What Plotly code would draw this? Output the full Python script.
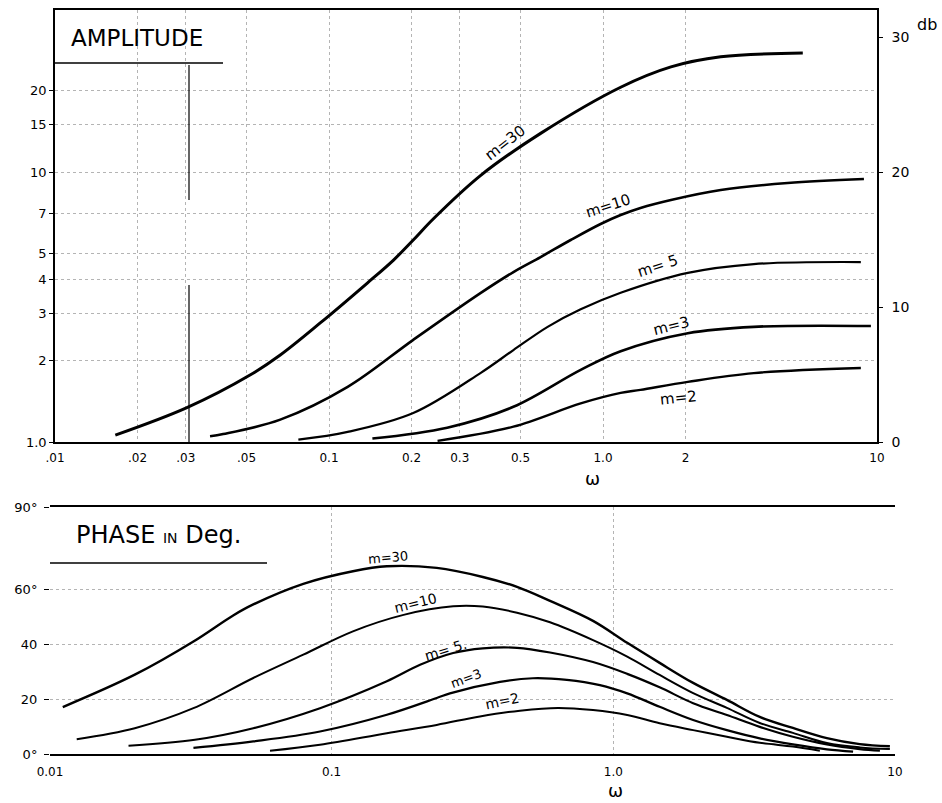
import plotly.graph_objects as go

W, H = 942, 803

# ---------------- data ----------------
# Amplitude (ratio) versus omega
amp_w_m30 = [0.0166, 0.0303, 0.0515, 0.0664, 0.0929, 0.138, 0.172, 0.203, 0.240, 0.357, 0.592, 1.16, 1.77, 2.69, 5.36]
amp_m30 = [1.06, 1.34, 1.77, 2.10, 2.76, 3.88, 4.72, 5.60, 6.70, 9.70, 13.9, 20.6, 24.5, 26.7, 27.6]

amp_w_m10 = [0.0368, 0.0411, 0.0664, 0.117, 0.203, 0.357, 0.471, 0.592, 0.762, 0.980, 1.16, 1.37, 1.77, 2.69, 4.72, 8.96]
amp_m10 = [1.05, 1.07, 1.21, 1.60, 2.39, 3.56, 4.26, 4.84, 5.60, 6.42, 6.93, 7.36, 7.88, 8.58, 9.10, 9.42]

amp_w_m5 = [0.0773, 0.117, 0.203, 0.357, 0.471, 0.628, 0.829, 1.16, 2.04, 3.55, 8.73]
amp_m5 = [1.02, 1.09, 1.28, 1.80, 2.19, 2.67, 3.10, 3.57, 4.23, 4.56, 4.64]

amp_w_m3 = [0.144, 0.270, 0.471, 0.829, 1.16, 2.04, 3.55, 9.50]
amp_m3 = [1.03, 1.13, 1.35, 1.85, 2.17, 2.53, 2.67, 2.69]

amp_w_m2 = [0.249, 0.471, 0.829, 1.16, 1.37, 2.04, 3.55, 8.73]
amp_m2 = [1.01, 1.14, 1.39, 1.52, 1.56, 1.67, 1.80, 1.88]

# Phase (degrees) versus omega
ph_w_m30 = [0.0111, 0.0200, 0.0323, 0.0447, 0.0527, 0.0793, 0.119, 0.157, 0.236, 0.344, 0.455, 0.596, 0.847, 1.12, 1.46, 1.92, 2.53, 3.31, 4.34, 5.73, 7.50, 9.59]
ph_m30 = [17.1, 28.9, 41.0, 50.5, 54.5, 62.0, 66.6, 68.4, 67.8, 64.5, 60.9, 55.8, 48.5, 40.5, 33.2, 25.9, 19.7, 13.5, 9.5, 5.8, 3.6, 2.8]

ph_w_m10 = [0.01244, 0.0200, 0.0323, 0.0527, 0.0793, 0.119, 0.180, 0.270, 0.344, 0.455, 0.596, 0.847, 1.12, 1.46, 1.92, 2.53, 3.31, 4.34, 5.73, 7.50, 9.59]
ph_m10 = [5.4, 9.4, 16.7, 27.7, 36.2, 44.7, 50.7, 53.8, 53.7, 51.5, 48.0, 41.5, 35.5, 28.8, 22.2, 16.8, 11.3, 7.7, 4.0, 2.4, 1.8]

ph_w_m5 = [0.0190, 0.0327, 0.0527, 0.0909, 0.157, 0.206, 0.270, 0.344, 0.455, 0.596, 0.847, 1.12, 1.46, 1.92, 2.53, 3.31, 4.34, 5.73, 7.50, 8.84]
ph_m5 = [3.0, 5.2, 9.4, 16.7, 26.5, 32.5, 36.8, 38.5, 38.7, 37.0, 33.5, 29.2, 24.3, 18.5, 14.2, 9.9, 6.3, 3.5, 1.8, 1.2]

ph_w_m3 = [0.0323, 0.0527, 0.0909, 0.157, 0.236, 0.263, 0.396, 0.518, 0.684, 0.896, 1.12, 1.46, 1.92, 2.53, 3.31, 4.34, 5.73, 7.10]
ph_m3 = [2.2, 4.6, 8.2, 14.3, 20.4, 22.1, 26.3, 27.6, 27.0, 25.1, 22.1, 17.2, 12.4, 8.7, 5.7, 3.5, 1.7, 0.9]

ph_w_m2 = [0.0604, 0.0909, 0.157, 0.236, 0.336, 0.466, 0.636, 0.847, 1.12, 1.46, 1.92, 2.53, 3.31, 4.34, 5.41]
ph_m2 = [1.2, 3.4, 7.6, 10.6, 13.7, 15.8, 16.8, 16.0, 14.2, 11.2, 8.7, 6.3, 4.1, 2.7, 1.2]

curve_names = ["m=30", "m=10", "m=5", "m=3", "m=2"]

top_xticks = [0.01, 0.02, 0.03, 0.05, 0.1, 0.2, 0.3, 0.5, 1, 2, 10]
top_xtext = [".01", ".02", ".03", ".05", "0.1", "0.2", "0.3", "0.5", "1.0", "2", "10"]
top_yticks = [1, 2, 3, 4, 5, 7, 10, 15, 20]
top_ytext = ["1.0", "2", "3", "4", "5", "7", "10", "15", "20"]
db_ticks = [0, 10, 20, 30]
db_text = ["0", "10", "20", "30"]
bot_xticks = [0.01, 0.1, 1, 10]
bot_xtext = ["0.01", "0.1", "1.0", "10"]
bot_yticks = [0, 20, 40, 60, 90]
bot_ytext = ["0°", "20", "40", "60°", "90°"]

# ---------------- figure ----------------
def P(x, y):
    return x / W, 1 - y / H

FONT = "DejaVu Sans"
fig = go.Figure()

amp_sets = [(amp_w_m30, amp_m30, 3.0), (amp_w_m10, amp_m10, 2.6), (amp_w_m5, amp_m5, 2.2),
            (amp_w_m3, amp_m3, 2.6), (amp_w_m2, amp_m2, 2.4)]
for (wx, ay, lw), nm in zip(amp_sets, curve_names):
    fig.add_trace(go.Scatter(x=wx, y=ay, mode="lines", name=nm, xaxis="x", yaxis="y",
                             line=dict(color="black", width=lw, shape="spline", smoothing=1.0),
                             showlegend=False, hoverinfo="skip"))

ph_sets = [(ph_w_m30, ph_m30, 2.4), (ph_w_m10, ph_m10, 2.0), (ph_w_m5, ph_m5, 2.2),
           (ph_w_m3, ph_m3, 2.2), (ph_w_m2, ph_m2, 2.0)]
for (wx, py, lw), nm in zip(ph_sets, curve_names):
    fig.add_trace(go.Scatter(x=wx, y=py, mode="lines", name=nm, xaxis="x2", yaxis="y2",
                             line=dict(color="black", width=lw, shape="spline", smoothing=1.0),
                             showlegend=False, hoverinfo="skip"))

# empty trace so the dB axis is drawn
fig.add_trace(go.Scatter(x=[], y=[], xaxis="x", yaxis="y3", showlegend=False))

tickfont = dict(family=FONT, size=12, color="black")
grid = dict(showgrid=True, gridcolor="#b4b4b4", griddash="dot", gridwidth=1)

fig.update_layout(
    width=W, height=H, margin=dict(l=0, r=0, t=0, b=0, autoexpand=False),
    paper_bgcolor="white", plot_bgcolor="white",
    xaxis=dict(domain=[55 / W, 877 / W], type="log", range=[-2, 1], anchor="y", automargin=False,
               tickvals=top_xticks, ticktext=top_xtext, tickfont=tickfont,
               showline=True, linecolor="black", linewidth=1.5, mirror=True,
               ticks="", ticklabelstandoff=4, zeroline=False, **grid),
    yaxis=dict(domain=[1 - 442 / H, 1 - 10 / H], type="log", range=[0, 1.6], anchor="x", automargin=False,
               tickvals=top_yticks, ticktext=top_ytext, tickfont=dict(family=FONT, size=13, color="black"),
               showline=True, linecolor="black", linewidth=1.5,
               ticks="outside", ticklen=4, tickcolor="black", zeroline=False, **grid),
    yaxis3=dict(overlaying="y", side="right", anchor="x", range=[0, 32], automargin=False,
                tickvals=db_ticks, ticktext=db_text,
                tickfont=dict(family=FONT, size=14, color="black"),
                showline=True, linecolor="black", linewidth=1.5, ticklabelstandoff=6,
                ticks="outside", ticklen=4, tickcolor="black", showgrid=False, zeroline=False),
    xaxis2=dict(domain=[50 / W, 895 / W], type="log", range=[-2, 1], anchor="y2", automargin=False,
                tickvals=bot_xticks, ticktext=bot_xtext, tickfont=tickfont,
                showline=True, linecolor="black", linewidth=1.5, mirror=True,
                ticks="", ticklabelstandoff=6, zeroline=False, **grid),
    yaxis2=dict(domain=[1 - 754 / H, 1 - 507 / H], range=[0, 90], anchor="x2", automargin=False,
                tickvals=bot_yticks, ticktext=bot_ytext, tickfont=dict(family=FONT, size=13, color="black"),
                showline=False, ticks="outside", ticklen=5, tickcolor="black",
                ticklabelstandoff=4, zeroline=False, **grid),
)

shapes = []
def hline(x0, x1, y, w=1.5):
    a0, b = P(x0, y); a1, _ = P(x1, y)
    shapes.append(dict(type="line", xref="paper", yref="paper", x0=a0, x1=a1, y0=b, y1=b,
                       line=dict(color="black", width=w)))
def vline(x, y0, y1, w=1.5):
    a, b0 = P(x, y0); _, b1 = P(x, y1)
    shapes.append(dict(type="line", xref="paper", yref="paper", x0=a, x1=a, y0=b0, y1=b1,
                       line=dict(color="black", width=w)))
hline(55, 223, 63)          # box under AMPLITUDE
vline(189, 65, 200, 1.2)    # solid line at .03
vline(189, 285, 442, 1.2)
hline(50, 267, 563)         # line under PHASE IN Deg.
fig.update_layout(shapes=shapes)

ann = []
def text(x, y, s, size=14, angle=0, xanchor="center"):
    a, b = P(x, y)
    ann.append(dict(x=a, y=b, xref="paper", yref="paper", text=s, showarrow=False,
                    textangle=angle, xanchor=xanchor, yanchor="middle",
                    font=dict(family=FONT, size=size, color="black")))

text(137, 38, "AMPLITUDE", size=23)
text(158, 535, "PHASE <span style='font-size:14px'>IN</span> Deg.", size=24)
text(927, 24, "db", size=16)
text(592, 478, "ω", size=18)
text(615, 790, "ω", size=18)

# curve labels - amplitude
text(505, 143, "m=30", size=15, angle=-38)
text(608, 206, "m=10", size=15, angle=-18)
text(658, 266, "m= 5", size=15, angle=-18)
text(671, 326, "m=3", size=15, angle=-14)
text(678, 398, "m=2", size=15, angle=-6)
# curve labels - phase
text(388, 557, "m=30", size=13, angle=-5)
text(415, 603, "m=10", size=14, angle=-14)
text(445, 650, "m= 5.", size=14, angle=-17)
text(466, 678, "m=3", size=13, angle=-20)
text(502, 701, "m=2", size=14, angle=-12)

fig.update_layout(annotations=ann)

fig.write_html("out.html")
